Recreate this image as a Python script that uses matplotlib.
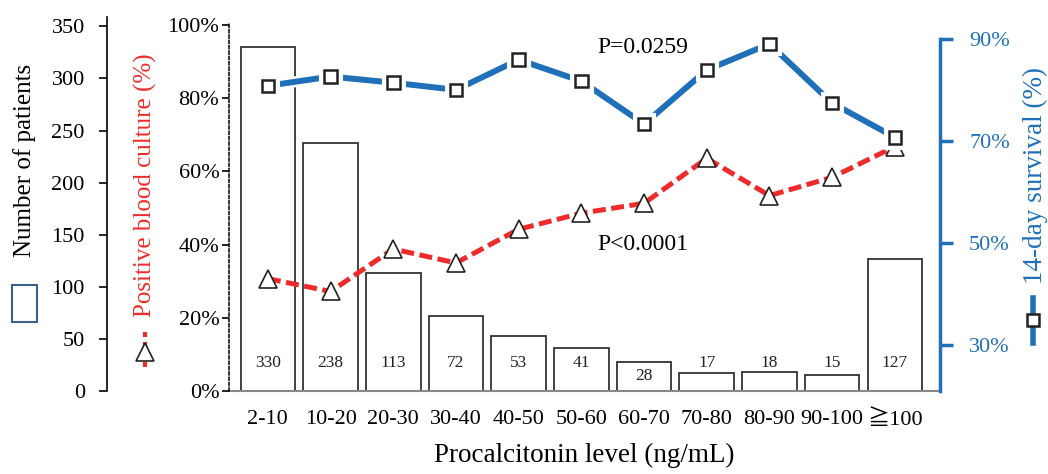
import matplotlib
matplotlib.use('Agg')
import matplotlib.pyplot as plt
import matplotlib.patheffects as pe
from matplotlib.patches import Rectangle
from matplotlib.lines import Line2D

plt.rcParams['font.family'] = ['Liberation Serif', 'DejaVu Serif', 'Noto Sans CJK JP']

# данные
categories = ['2-10', '10-20', '20-30', '30-40', '40-50', '50-60', '60-70',
              '70-80', '80-90', '90-100', '≧100']
patients = [330, 238, 113, 72, 53, 41, 28, 17, 18, 15, 127]
blood_culture = [30.7, 27.2, 38.8, 35.0, 44.2, 48.6, 51.3, 63.6, 53.4, 58.4, 66.8]
survival = [80.8, 82.6, 81.4, 80.0, 85.9, 81.7, 73.3, 83.9, 89.0, 77.4, 70.7]

blue = '#1f70b8'
red = '#ee2b2b'
W, H = 1048, 474

fig = plt.figure(figsize=(W / 100, H / 100), dpi=100)
ax = fig.add_axes([229 / W, 1 - 391 / H, 711 / W, 367 / H])
x = list(range(len(categories)))

# столбцы: число пациентов
ax.bar(x, patients, width=0.87, color='white', edgecolor='#333333', linewidth=1.3, zorder=1)
for xi, v in zip(x, patients):
    ty = v / 2 if abs(v - 27) < 6 else 27
    ax.text(xi, ty, str(v), ha='center', va='center', fontsize=12.5, color='#222222')
ax.set_xlim(-0.62, 10.72)
ax.set_ylim(0, 352.3)
ax.set_xticks(x)
ax.set_xticklabels(categories, fontsize=16)
ax.tick_params(axis='x', length=0, pad=14)
ax.set_xlabel('Procalcitonin level (ng/mL)', fontsize=19.5, labelpad=9)
ax.spines['top'].set_visible(False)
ax.spines['right'].set_visible(False)
ax.spines['bottom'].set_color('#888888')
ax.spines['bottom'].set_linewidth(1.5)
ax.spines['left'].set_position(('axes', -0.1716))
ax.spines['left'].set_bounds(0, 359)
ax.spines['left'].set_linewidth(1.2)
ax.set_yticks(range(0, 351, 50))
ax.tick_params(axis='y', labelsize=16, length=6, width=1.2, pad=10)

# положительная гемокультура (%)
ax2 = ax.twinx()
ax2.plot(x, blood_culture, color=red, lw=3.6, linestyle=(0, (2.6, 1.1)),
         marker='^', markersize=13, markerfacecolor='white', markeredgecolor='#222222',
         markeredgewidth=1.2, zorder=3)
ax2.set_ylim(0, 100.3)
ax2.yaxis.tick_left()
ax2.spines['right'].set_visible(False)
ax2.spines['top'].set_visible(False)
ax2.spines['bottom'].set_visible(False)
ax2.spines['left'].set_visible(True)
ax2.spines['left'].set_linestyle((0, (2, 1.5)))
ax2.spines['left'].set_linewidth(1.1)
ax2.set_yticks(range(0, 101, 20))
ax2.set_yticklabels([f'{v}%' for v in range(0, 101, 20)])
ax2.tick_params(axis='y', labelsize=16, length=5, width=1.2, pad=2)

# 14-дневная выживаемость (%)
ax3 = ax.twinx()
ax3.plot(x, survival, color=blue, lw=4.3, marker='s', markersize=9,
         markerfacecolor='white', markeredgecolor='#222222', markeredgewidth=1.8, zorder=4,
         path_effects=[pe.Stroke(linewidth=8, foreground='white'), pe.Normal()])
ax3.set_ylim(21, 92.9)
for s in ['top', 'left', 'bottom']:
    ax3.spines[s].set_visible(False)
ax3.spines['right'].set_color(blue)
ax3.spines['right'].set_linewidth(2.5)
ax3.spines['right'].set_bounds(21, 90)
ax3.set_yticks([30, 50, 70, 90])
ax3.set_yticklabels(['30%', '50%', '70%', '90%'])
ax3.tick_params(axis='y', colors=blue, labelcolor=blue, labelsize=16, length=9,
                width=2.5, pad=12)

ax.text(0.5176, 0.935, 'P=0.0259', transform=ax.transAxes, fontsize=17, va='center')
ax.text(0.5176, 0.40, 'P<0.0001', transform=ax.transAxes, fontsize=17, va='center')

# подписи осей и условные обозначения
fig.text(25 / W, 1 - 160 / H, 'Number of patients', rotation=90, fontsize=18,
         ha='center', va='center')
fig.patches.append(Rectangle((12 / W, 1 - 322 / H), 25 / W, 37 / H, fill=False,
                             edgecolor='#3d5f8c', lw=1.5, transform=fig.transFigure))

fig.text(145 / W, 1 - 185 / H, 'Positive blood culture (%)', rotation=90, fontsize=18,
         color=red, ha='center', va='center')
fig.lines.append(Line2D([145 / W, 145 / W], [1 - 332 / H, 1 - 370 / H], color=red, lw=3,
                        linestyle=(0, (1.2, 1.2)), transform=fig.transFigure))
fig.lines.append(Line2D([145 / W], [1 - 352 / H], marker='^', markersize=13,
                        markerfacecolor='white', markeredgecolor='#222222',
                        markeredgewidth=1.2, transform=fig.transFigure))

fig.text(1035 / W, 1 - 175 / H, '14-day survival (%)', rotation=90, fontsize=19.5,
         color=blue, ha='center', va='center')
fig.lines.append(Line2D([1033 / W, 1033 / W], [1 - 298 / H, 1 - 343 / H], color=blue, lw=4,
                        transform=fig.transFigure))
fig.lines.append(Line2D([1033 / W], [1 - 320 / H], marker='s', markersize=9,
                        markerfacecolor='white', markeredgecolor='#222222',
                        markeredgewidth=1.8, transform=fig.transFigure))

plt.savefig('out.png', dpi=100)
